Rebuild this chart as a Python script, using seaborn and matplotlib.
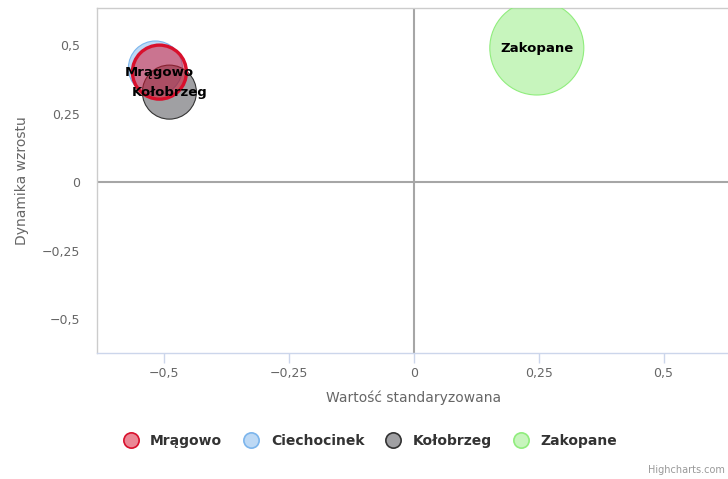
import matplotlib
matplotlib.use("Agg")
import matplotlib.pyplot as plt
import seaborn as sns
import pandas as pd
from matplotlib.colors import to_rgba
from matplotlib.lines import Line2D
from matplotlib.ticker import FuncFormatter

# data
cities = ["Mrągowo", "Ciechocinek", "Kołobrzeg", "Zakopane"]
x_std = [-0.510, -0.518, -0.490, 0.246]
y_growth = [0.401, 0.416, 0.328, 0.489]
z_size = [1.0, 1.0, 1.0, 2.8]
x_ticks = [-0.5, -0.25, 0, 0.25, 0.5]
y_ticks = [-0.5, -0.25, 0, 0.25, 0.5]

fill_colors = {"Mrągowo": "#d8102c", "Ciechocinek": "#7cb5ec",
               "Kołobrzeg": "#434348", "Zakopane": "#90ed7d"}
edge_colors = {"Mrągowo": "#d8102c", "Ciechocinek": "#7cb5ec",
               "Kołobrzeg": "#333333", "Zakopane": "#90ed7d"}
edge_widths = {"Mrągowo": 2.4, "Ciechocinek": 0.8, "Kołobrzeg": 0.8, "Zakopane": 0.8}
# Ciechocinek label is hidden in the original (overlapping labels)
show_label = {"Mrągowo": True, "Ciechocinek": False, "Kołobrzeg": True, "Zakopane": True}

df = pd.DataFrame({"city": cities, "x": x_std, "y": y_growth, "z": z_size})
# draw order: Mrągowo on top
draw_order = ["Ciechocinek", "Kołobrzeg", "Zakopane", "Mrągowo"]
df_draw = df.set_index("city").loc[draw_order].reset_index()

sns.set_style("white")
plt.rcParams["font.family"] = ["DejaVu Sans"]

fig = plt.figure(figsize=(7.28, 4.79), dpi=100)
ax = fig.add_axes([97 / 728, 1 - 353 / 479, 634 / 728, 345 / 479])

ax.axhline(0, color="#a6a6a6", lw=1.5, zorder=1)
ax.axvline(0, color="#a6a6a6", lw=1.5, zorder=1)

sns.scatterplot(data=df_draw, x="x", y="y", size="z", sizes=(1513, 4580),
                size_norm=(min(z_size), max(z_size)), color="gray",
                legend=False, ax=ax, zorder=3)

pts = ax.collections[-1]
pts.set_facecolors([to_rgba(fill_colors[c], 0.5) for c in df_draw["city"]])
pts.set_edgecolors([edge_colors[c] for c in df_draw["city"]])
pts.set_linewidths([edge_widths[c] for c in df_draw["city"]])

for _, row in df.iterrows():
    if show_label[row["city"]]:
        ax.text(row["x"], row["y"], row["city"], ha="center", va="center",
                fontsize=9.5, fontweight="bold", color="#000000", zorder=5)

ax.set_xlim(-0.635, 0.635)
ax.set_ylim(-0.624, 0.635)
ax.set_xticks(x_ticks)
ax.set_yticks(y_ticks)

fmt = FuncFormatter(lambda v, p: ("%g" % v).replace(".", ",").replace("-", "\u2212"))
ax.xaxis.set_major_formatter(fmt)
ax.yaxis.set_major_formatter(fmt)

ax.tick_params(axis="x", length=7.2, width=1, color="#ccd6eb", labelsize=9, pad=3,
               bottom=True, labelcolor="#666666")
ax.tick_params(axis="y", length=0, labelsize=9, pad=12, labelcolor="#666666")

for side in ["top", "left", "right"]:
    ax.spines[side].set_color("#cccccc")
    ax.spines[side].set_linewidth(1)
ax.spines["bottom"].set_color("#ccd6eb")
ax.spines["bottom"].set_linewidth(1)

ax.set_xlabel("Wartość standaryzowana", fontsize=10, color="#666666")
ax.set_ylabel("Dynamika wzrostu", fontsize=10, color="#666666")
ax.xaxis.set_label_coords(0.5, -0.108)
ax.yaxis.set_label_coords(-0.107, 0.5)

handles = [Line2D([0], [0], marker="o", linestyle="", markersize=11,
                  markerfacecolor=to_rgba(fill_colors[c], 0.5),
                  markeredgecolor=edge_colors[c], markeredgewidth=1.2, label=c)
           for c in cities]
leg = fig.legend(handles=handles, loc="center", bbox_to_anchor=(0.509, 1 - 441 / 479),
                 ncol=4, frameon=False, handlelength=1.0, handletextpad=0.9,
                 columnspacing=1.6, prop={"size": 10, "weight": "bold"})
for t in leg.get_texts():
    t.set_color("#333333")

fig.text(725 / 728, 1 - 470 / 479, "Highcharts.com", fontsize=7, color="#999999",
         ha="right", va="center")

fig.savefig("out.png", dpi=100)
